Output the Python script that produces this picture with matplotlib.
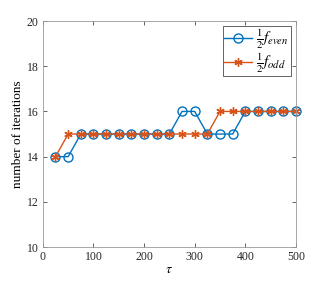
import matplotlib
matplotlib.use('Agg')
import matplotlib.pyplot as plt

plt.rcParams['font.family'] = 'Liberation Serif'
plt.rcParams['mathtext.fontset'] = 'stix'

tau = [25, 50, 75, 100, 125, 150, 175, 200, 225, 250,
       275, 300, 325, 350, 375, 400, 425, 450, 475, 500]
f_even = [14, 14, 15, 15, 15, 15, 15, 15, 15, 15,
          16, 16, 15, 15, 15, 16, 16, 16, 16, 16]
f_odd = [14, 15, 15, 15, 15, 15, 15, 15, 15, 15,
         15, 15, 15, 16, 16, 16, 16, 16, 16, 16]

blue = '#0072BD'
orange = '#D95319'

fig = plt.figure(figsize=(3.27, 2.84), dpi=100)
ax = fig.add_axes([0.131, 0.130, 0.774, 0.796])

ax.plot(tau, f_even, '-o', color=blue, linewidth=1.0, markersize=6.5,
        markerfacecolor='none', markeredgewidth=1.0, clip_on=False,
        label=r'$\frac{1}{2}f_{even}$')
ax.plot(tau, f_odd, '-', marker=(6, 2, 0), color=orange, linewidth=1.0,
        markersize=6, markeredgewidth=1.0, clip_on=False,
        label=r'$\frac{1}{2}f_{odd}$')

ax.set_xlim(0, 500)
ax.set_ylim(10, 20)
ax.set_xticks([0, 100, 200, 300, 400, 500])
ax.set_yticks([10, 12, 14, 16, 18, 20])
ax.tick_params(direction='in', top=True, right=True, labelsize=8.5,
               length=3, width=0.5, color='#262626', labelcolor='#262626',
               pad=3)
for s in ax.spines.values():
    s.set_color('#999999')
    s.set_linewidth(0.6)

ax.set_xlabel(r'$\tau$', fontsize=10, labelpad=0)
ax.set_ylabel('number of iterations', fontsize=9.5, labelpad=2)

leg = ax.legend(loc='upper right', fontsize=11, fancybox=False,
                framealpha=1, borderpad=0.1, handlelength=1.8,
                handletextpad=0.3, labelspacing=0.0, borderaxespad=0.35)
leg.get_frame().set_edgecolor('#262626')
leg.get_frame().set_linewidth(0.5)

fig.savefig('out.png', dpi=100)
